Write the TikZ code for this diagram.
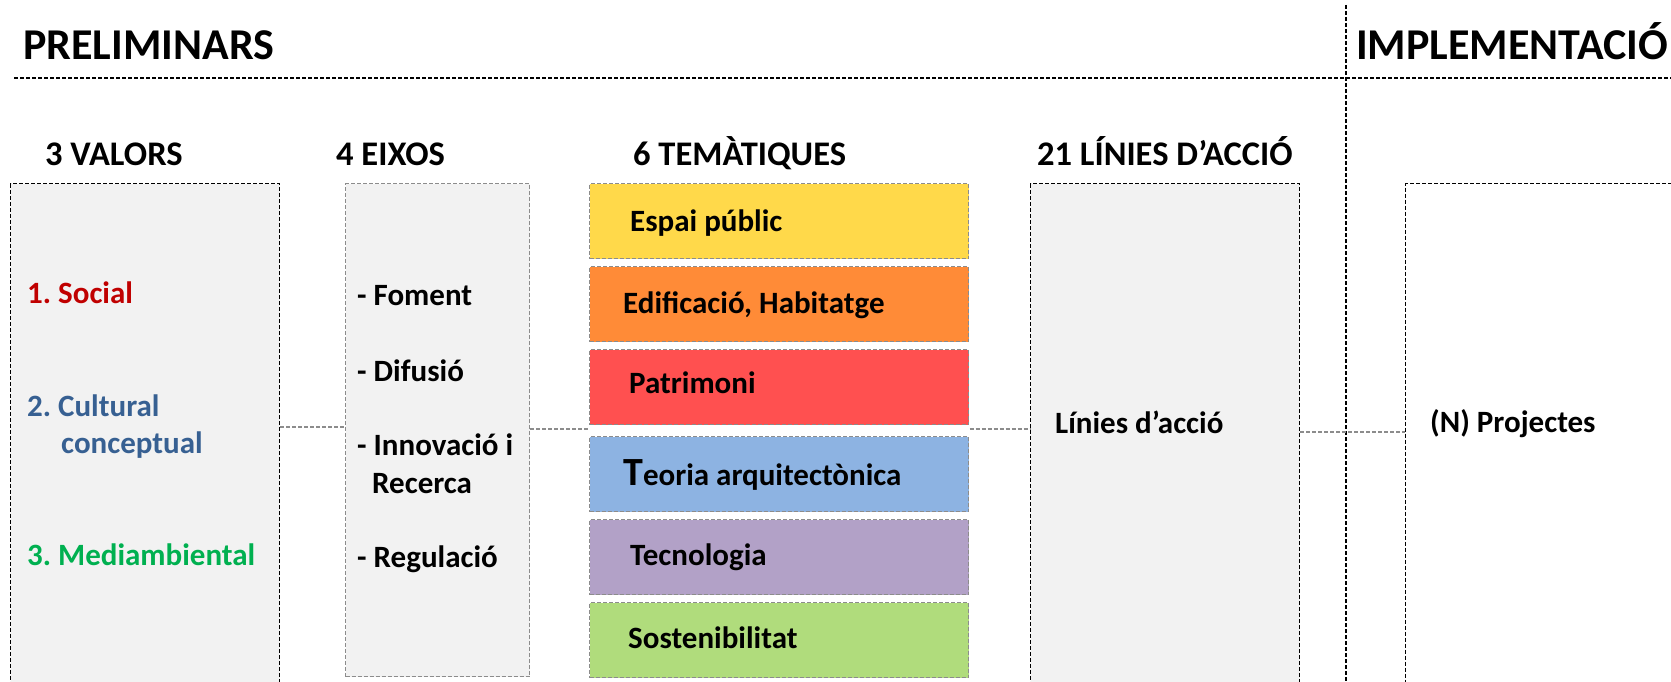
\documentclass[tikz,border=0pt]{standalone}
\usepackage{fontspec}
\setmainfont{Carlito}
\usetikzlibrary{fit}
\frenchspacing
\definecolor{boxgray}{HTML}{F2F2F2}
\definecolor{dashgray}{HTML}{8C8C8C}
\definecolor{cespai}{HTML}{FFD94A}
\definecolor{cedif}{HTML}{FF8B37}
\definecolor{cpatr}{HTML}{FF5050}
\definecolor{cteor}{HTML}{8DB3E2}
\definecolor{ctecn}{HTML}{B2A1C7}
\definecolor{csost}{HTML}{B0DC7C}
\definecolor{csocial}{HTML}{C00000}
\definecolor{ccult}{HTML}{376092}
\definecolor{cmedi}{HTML}{00B050}
\begin{document}
\frenchspacing
\begin{tikzpicture}[x=1pt,y=-1pt,
  blackdash/.style={draw=black, line width=1.3pt, dash pattern=on 4pt off 2pt},
  graydash/.style={draw=dashgray, line width=1.3pt, dash pattern=on 4pt off 2pt},
  blackbox/.style={blackdash, rectangle, inner sep=0pt, anchor=north west},
  graybox/.style={graydash, rectangle, inner sep=0pt, anchor=north west},
  tembox/.style={graybox, minimum width=379pt, minimum height=75pt},
  txt/.style={font=\fontsize{31}{37}\selectfont\bfseries, inner sep=0pt, anchor=base west},
  head/.style={font=\fontsize{34.5}{40}\selectfont\bfseries, inner sep=0pt, anchor=base west},
  title/.style={font=\fontsize{44}{50}\selectfont\bfseries, inner sep=0pt, anchor=base west},
  conn/.style={graydash, line width=1.2pt}
]
\clip (0,0) rectangle (1671,682);
\fill[white] (0,0) rectangle (1671,682);

% section separators
\coordinate (hl) at (14,78);
\coordinate (hr) at (1671,78);
\coordinate (vt) at (1346,5);
\coordinate (vb) at (1346,690);
\draw[blackdash] (hl) -- (hr);
\draw[blackdash] (vt) -- (vb);

\node[title] (prelim) at (23,60) {PRELIMINARS};
\node[title] (impl) at (1356,60) {IMPLEMENTACIÓ};

% column headers
\node[head] (h1) at (45,165) {3 VALORS};
\node[head] (h2) at (336,165) {4 EIXOS};
\node[head] (h3) at (633,165) {6 TEMÀTIQUES};
\node[head] (h4) at (1037,165) {21 LÍNIES D’ACCIÓ};

% boxes
\node[blackbox, fill=boxgray, minimum width=269pt, minimum height=560pt] (valors) at (10,183) {};
\node[graybox, fill=boxgray, minimum width=184pt, minimum height=493pt] (eixos) at (345,183) {};
\node[tembox, fill=cespai] (t1) at (589,183) {};
\node[tembox, fill=cedif] (t2) at (589,266) {};
\node[tembox, fill=cpatr] (t3) at (589,349) {};
\node[tembox, fill=cteor] (t4) at (589,436) {};
\node[tembox, fill=ctecn] (t5) at (589,519) {};
\node[tembox, fill=csost] (t6) at (589,602) {};
\node[fit=(t1)(t6), inner sep=0pt] (tem) {};
\node[blackbox, fill=boxgray, minimum width=269pt, minimum height=560pt] (linies) at (1030,183) {};
\node[blackbox, fill=white, minimum width=300pt, minimum height=560pt] (proj) at (1405,183) {};

% connectors
\coordinate (r1) at (0,427);
\coordinate (r2) at (0,429);
\coordinate (r3) at (0,432);
\draw[conn] (valors.east |- r1) -- (eixos.west |- r1);
\draw[conn] (eixos.east |- r2) -- (tem.west |- r2);
\draw[conn] (tem.east |- r2) -- (linies.west |- r2);
\draw[conn] (linies.east |- r3) -- (proj.west |- r3);

% texts: valors
\node[txt, text=csocial] (v1) at (27,303) {1. Social};
\node[txt, text=ccult] (v2) at (27,416) {2. Cultural};
\node[txt, text=ccult] (v2b) at (61,453) {conceptual};
\node[txt, text=cmedi] (v3) at (27,565) {3. Mediambiental};

% texts: eixos
\node[txt] (e1) at (357,305) {- Foment};
\node[txt] (e2) at (357,381) {- Difusió};
\node[txt] (e3) at (357,455) {- Innovació i};
\node[txt] (e3b) at (372,493) {Recerca};
\node[txt] (e4) at (357,567) {- Regulació};

% texts: tematiques
\node[txt] (l1) at (630,231) {Espai públic};
\node[txt] (l2) at (623,313) {Edificació, Habitatge};
\node[txt] (l3) at (629,393) {Patrimoni};
\node[txt] (l4) at (623,485) {{\fontsize{40}{40}\selectfont T}eoria arquitectònica};
\node[txt] (l5) at (630,565) {Tecnologia};
\node[txt] (l6) at (628,648) {Sostenibilitat};

% texts: linies / projectes
\node[txt] (la) at (1055,433) {Línies d’acció};
\node[txt] (pa) at (1430,432) {(N) Projectes};
\end{tikzpicture}
\end{document}
